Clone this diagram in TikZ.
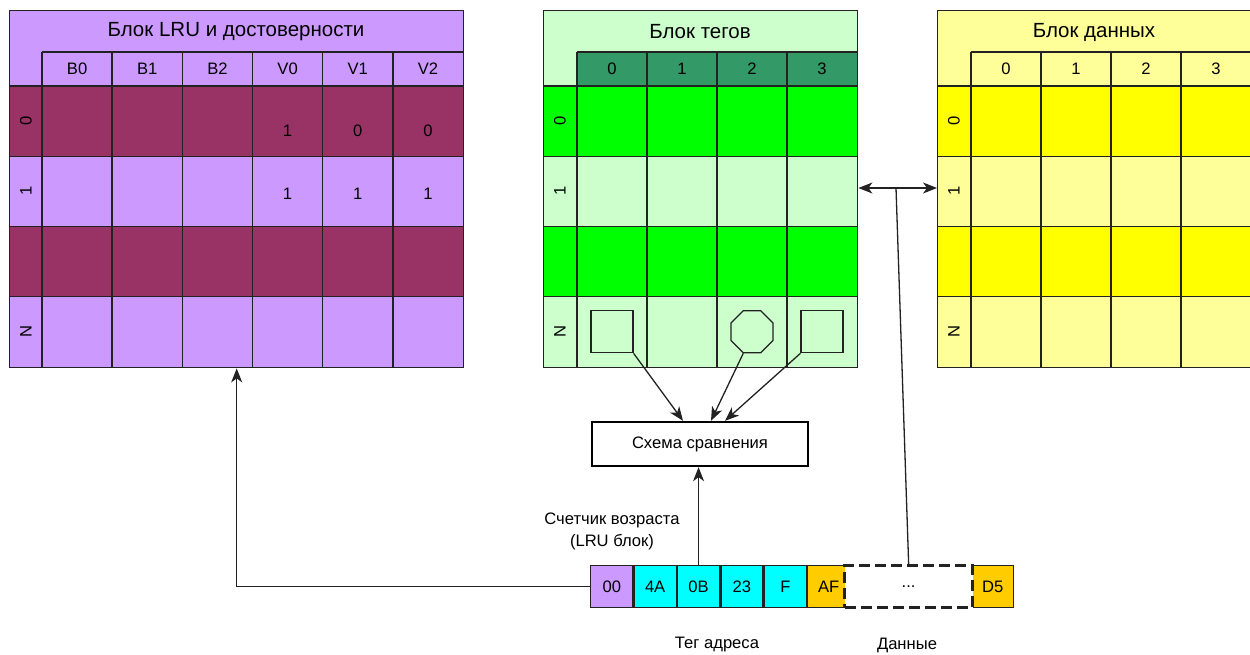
\documentclass[tikz,border=0pt]{standalone}
\usepackage{fontspec}
\setmainfont{Liberation Sans}
\usetikzlibrary{arrows.meta,shapes.geometric,positioning}
\definecolor{lruLight}{HTML}{CC99FF}
\definecolor{lruDark}{HTML}{993366}
\definecolor{tagLight}{HTML}{CCFFCC}
\definecolor{tagBright}{HTML}{00FF00}
\definecolor{tagHead}{HTML}{339966}
\definecolor{dataLight}{HTML}{FFFF99}
\definecolor{dataBright}{HTML}{FFFF00}
\definecolor{tagAddr}{HTML}{00FFFF}
\definecolor{dataByte}{HTML}{FFCC00}
\definecolor{edge}{HTML}{222222}
\begin{document}
\begin{tikzpicture}[x=1pt,y=-1pt,
  txt/.style={font=\fontsize{16.6}{22}\selectfont, inner sep=0pt},
  ttl/.style={font=\fontsize{20.5}{24}\selectfont, inner sep=0pt},
  rowlbl/.style={txt, rotate=90},
  gridline/.style={draw=edge, line width=1.4pt},
  blockframe/.style={draw=edge, line width=1.4pt, inner sep=0pt, anchor=north west, minimum height=357pt},
  addrcell/.style={draw=edge, line width=1.3pt, minimum width=42.1pt, minimum height=42pt, inner sep=0pt, txt},
  tagshape/.style={draw=edge, line width=1.2pt, inner sep=0pt},
  tip/.tip={Stealth[length=14pt,width=11pt,inset=4pt]},
  link/.style={draw=edge, line width=1.3pt, -tip},
]
\useasboundingbox (0,0) rectangle (1250,655);

% ---------- LRU and validity block ----------
\fill[lruLight] (9,10) rectangle (463,367);
\fill[lruDark] (9,86) rectangle (463,156.25);
\fill[lruDark] (9,226.5) rectangle (463,296.75);
\draw[gridline] (42,52) -- (463,52);
\foreach \y in {86,156.25,226.5,296.75} \draw[gridline] (9,\y) -- (463,\y);
\foreach \x in {42,112.17,182.33,252.5,322.67,392.83} \draw[gridline] (\x,52) -- (\x,367);
\node[blockframe, minimum width=454pt] (lru) at (9,10) {};
\node[ttl] (lruTitle) at (236,32) {Блок LRU и достоверности};
\foreach \t [count=\i from 0] in {B0,B1,B2,V0,V1,V2}
  \node[txt] (lruH\i) at (77.08+70.17*\i,69) {\t};
\foreach \r/\t in {0/0,1/1,3/N}
  \node[rowlbl] (lruR\r) at (26,121.1+70.25*\r) {\t};
\foreach \v [count=\i from 0] in {1,0,0}
  \node[txt] (lruA\i) at (287.6+70.17*\i,131) {\v};
\foreach \v [count=\i from 0] in {1,1,1}
  \node[txt] (lruB\i) at (287.6+70.17*\i,194) {\v};

% ---------- tag block ----------
\fill[tagLight] (543,10) rectangle (857,367);
\fill[tagHead] (577,52) rectangle (857,86);
\fill[tagBright] (543,86) rectangle (857,156.25);
\fill[tagBright] (543,226.5) rectangle (857,296.75);
\draw[gridline] (577,52) -- (857,52);
\foreach \y in {86,156.25,226.5,296.75} \draw[gridline] (543,\y) -- (857,\y);
\foreach \x in {577,647,717,787} \draw[gridline] (\x,52) -- (\x,367);
\node[blockframe, minimum width=314pt] (tagsBlk) at (543,10) {};
\node[ttl] (tagTitle) at (700,32) {Блок тегов};
\foreach \t [count=\i from 0] in {0,1,2,3}
  \node[txt] (tagH\i) at (612+70*\i,69) {\t};
\foreach \r/\t in {0/0,1/1,3/N}
  \node[rowlbl] (tagR\r) at (560,121.1+70.25*\r) {\t};
\node[tagshape, minimum size=42pt] (sq0) at (612,331.75) {};
\node[tagshape, regular polygon, regular polygon sides=8, minimum size=45.5pt] (oct) at (752,331.75) {};
\node[tagshape, minimum size=42pt] (sq3) at (822,331.75) {};

% ---------- data block ----------
\fill[dataLight] (937,10) rectangle (1251,367);
\fill[dataBright] (937,86) rectangle (1251,156.25);
\fill[dataBright] (937,226.5) rectangle (1251,296.75);
\draw[gridline] (971,52) -- (1251,52);
\foreach \y in {86,156.25,226.5,296.75} \draw[gridline] (937,\y) -- (1251,\y);
\foreach \x in {971,1041,1111,1181} \draw[gridline] (\x,52) -- (\x,367);
\node[blockframe, minimum width=314pt] (dataBlk) at (937,10) {};
\node[ttl] (dataTitle) at (1094,32) {Блок данных};
\foreach \t [count=\i from 0] in {0,1,2,3}
  \node[txt] (dataH\i) at (1006+70*\i,69) {\t};
\foreach \r/\t in {0/0,1/1,3/N}
  \node[rowlbl] (dataR\r) at (954,121.1+70.25*\r) {\t};

% ---------- comparator ----------
\node[txt, draw=black, line width=2.4pt, minimum width=216pt, minimum height=44pt] (cmp) at (700,444) {Схема сравнения};

% ---------- address word ----------
\node[addrcell, fill=lruLight] (a00) at (611.75,586.7) {00};
\node[addrcell, fill=tagAddr, right=0pt of a00] (a4A) {4A};
\node[addrcell, fill=tagAddr, right=0pt of a4A] (a0B) {0B};
\node[addrcell, fill=tagAddr, right=0pt of a0B] (a23) {23};
\node[addrcell, fill=tagAddr, right=0pt of a23] (aF) {F};
\node[addrcell, fill=dataByte, right=0pt of aF] (aAF) {AF};
\node[addrcell, fill=dataByte, anchor=west] (aD5) at (971,586.7) {D5};
\node[addrcell, fill=white, minimum width=127.7pt, line width=3pt, dash pattern=on 11pt off 5pt, anchor=west] (adots) at (843.3,586.7) {...};

\node[txt, align=center] (ageLbl) at (612,531) {Счетчик возраста\\(LRU блок)};
\node[txt] (tagLbl) at (717,645) {Тег адреса};
\node[txt] (dataLbl) at (907,645) {Данные};

% ---------- connectors ----------
\draw[link] (sq0.south east) -- ([xshift=-17pt]cmp.north);
\draw[link] (oct.-112.5) -- ([xshift=11pt]cmp.north);
\draw[link] (sq3.south west) -- ([xshift=25pt]cmp.north);
\draw[link] (a0B.north) -- (a0B.north |- cmp.south);
\draw[link] (a00.west) -| (lru.south);
\coordinate (bus) at (896,188);
\draw[draw=edge, line width=1.3pt, tip-tip] (tagsBlk.east |- bus) -- (dataBlk.west |- bus);
\draw[draw=edge, line width=1.3pt] (adots.north) -- (bus);
\end{tikzpicture}
\end{document}
